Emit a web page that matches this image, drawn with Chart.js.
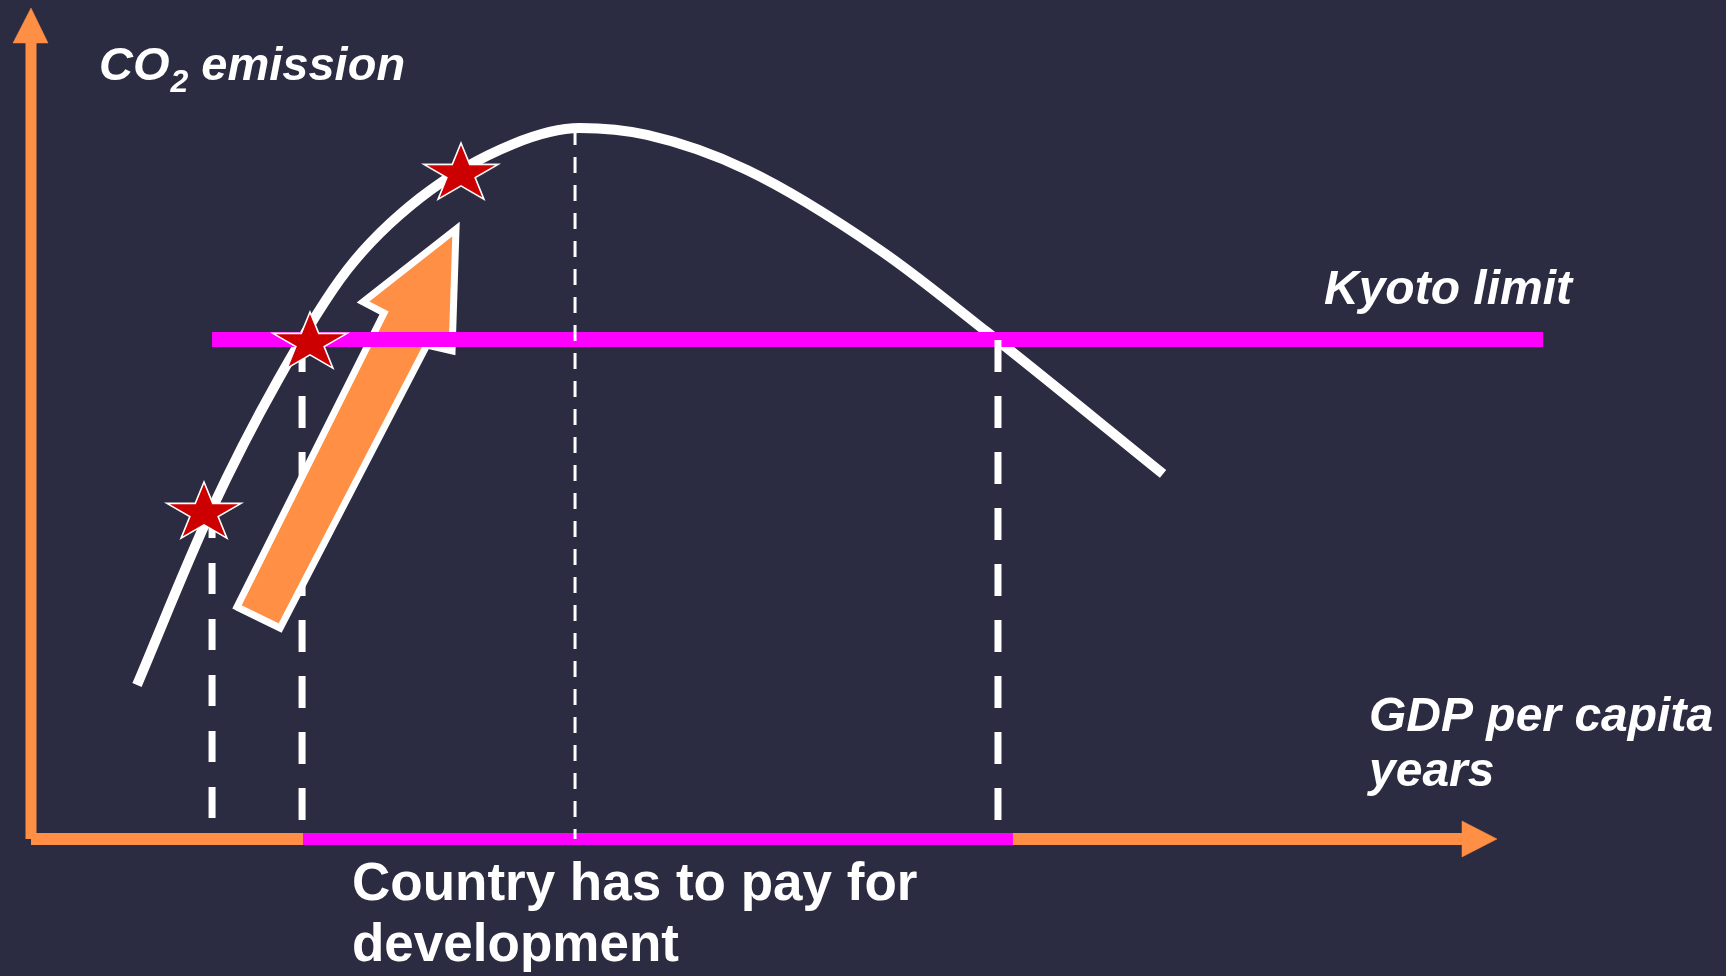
<!DOCTYPE html>
<html>
<head>
<meta charset="utf-8">
<script src="https://cdn.jsdelivr.net/npm/chart.js@4/dist/chart.umd.min.js"></script>
<style>
  html, body { margin: 0; padding: 0; background: #2b2b42; overflow: hidden; }
  #wrap { width: 1726px; height: 976px; position: relative; }
</style>
</head>
<body>
<div id="wrap"><canvas id="c"></canvas></div>
<script>
// ---- data (x = GDP per capita / years, y = CO2 emission; arbitrary units) ----
const curveX = [7.23, 12.21, 16.85, 21.56, 26.53, 32.88, 37.45, 42.02, 48.84, 57.91, 65.21, 77.22];
const curveY = [18.55, 39.28, 55.30, 68.55, 77.23, 83.73, 85.66, 84.82, 80.60, 70.96, 61.08, 43.98];

const starX = [11.80, 19.03, 29.33];
const starY = [39.28, 59.76, 80.12];

const kyotoLevel = 60.18;
const kyotoFrom = 12.35, kyotoTo = 103.14;

const dropX = [12.35, 18.49, 37.11, 65.96];      // dashed verticals
const dropTop = [40.0, 60.12, 85.54, 60.12];
const dropBottom = [2.53, 2.29, 0, 2.29];

const payFrom = 18.55, payTo = 66.98;             // "country has to pay" span on the x axis

const arrowX = [14.05, 16.99, 27.01, 28.72, 28.99, 22.65, 24.08];
const arrowY = [27.95, 25.42, 59.52, 58.80, 73.49, 64.70, 63.37];

const axisXEnd = 97.61, axisXTip = 100, axisYEnd = 95.90, axisYTip = 100.12;

const labels = {
  yTitleMain: "CO", yTitleSub: "2", yTitleRest: " emission",
  kyoto: "Kyoto limit",
  xTitle: ["GDP per capita", "years"],
  pay: ["Country has to pay for", "development"]
};

// ---- helpers ----
const pts = (xs, ys) => xs.map((x, i) => ({x, y: ys[i]}));
const closed = (xs, ys) => { const p = pts(xs, ys); return p.concat([p[0], p[1]]); };

const ORANGE = '#ff8f45', MAGENTA = '#ff00ff', WHITE = '#ffffff', RED = '#cc0000';

function makeStar() {
  const rx = 39, ry = 31, ir = 0.382;
  const cv = document.createElement('canvas');
  cv.width = 2 * rx + 4; cv.height = 2 * ry + 4;
  const g = cv.getContext('2d');
  const cx = cv.width / 2, cy = cv.height / 2;
  g.beginPath();
  for (let k = 0; k < 10; k++) {
    const a = -Math.PI / 2 + k * Math.PI / 5;
    const r = (k % 2 === 0) ? 1 : ir;
    const px = cx + Math.cos(a) * rx * r, py = cy + Math.sin(a) * ry * r;
    k === 0 ? g.moveTo(px, py) : g.lineTo(px, py);
  }
  g.closePath();
  g.fillStyle = RED; g.fill();
  g.lineWidth = 1.6; g.strokeStyle = WHITE; g.lineJoin = 'miter'; g.stroke();
  return cv;
}
const starImg = makeStar();

const base = { pointRadius: 0, tension: 0, fill: false, borderCapStyle: 'butt', borderJoinStyle: 'miter' };
let ord = 100;
const ds = (o) => Object.assign({}, base, o, { order: ord-- });

const datasets = [];
datasets.push(ds({ data: [{x: dropX[0], y: dropTop[0]}, {x: dropX[0], y: dropBottom[0]}], borderColor: WHITE, borderWidth: 7, borderDash: [31, 25] }));
datasets.push(ds({ data: [{x: dropX[1], y: dropTop[1]}, {x: dropX[1], y: dropBottom[1]}], borderColor: WHITE, borderWidth: 7, borderDash: [32, 24] }));
datasets.push(ds({ data: [{x: 0, y: 0}, {x: axisXEnd, y: 0}], borderColor: ORANGE, borderWidth: 12 }));
datasets.push(ds({ data: [{x: payFrom, y: 0}, {x: payTo, y: 0}], borderColor: MAGENTA, borderWidth: 12 }));
datasets.push(ds({ data: [{x: 0, y: 0}, {x: 0, y: axisYEnd}], borderColor: ORANGE, borderWidth: 11 }));
datasets.push(ds({ data: [{x: axisXEnd, y: 2.17}, {x: axisXTip, y: 0}, {x: axisXEnd, y: -2.17}, {x: axisXEnd, y: 2.17}], borderColor: ORANGE, borderWidth: 0.5, backgroundColor: ORANGE, fill: 'shape' }));
datasets.push(ds({ data: [{x: -1.228, y: axisYEnd}, {x: 0, y: axisYTip}, {x: 1.16, y: axisYEnd}, {x: -1.228, y: axisYEnd}], borderColor: ORANGE, borderWidth: 0.5, backgroundColor: ORANGE, fill: 'shape' }));
datasets.push(ds({ data: closed(arrowX, arrowY), borderColor: WHITE, borderWidth: 7, backgroundColor: ORANGE, fill: 'shape' }));
datasets.push(ds({ data: pts(curveX, curveY), borderColor: WHITE, borderWidth: 10, cubicInterpolationMode: 'monotone' }));
datasets.push(ds({ data: [{x: kyotoFrom, y: kyotoLevel}, {x: kyotoTo, y: kyotoLevel}], borderColor: MAGENTA, borderWidth: 15 }));
datasets.push(ds({ data: [{x: dropX[2], y: dropTop[2]}, {x: dropX[2], y: dropBottom[2]}], borderColor: WHITE, borderWidth: 3, borderDash: [16, 12] }));
datasets.push(ds({ data: [{x: dropX[3], y: dropTop[3]}, {x: dropX[3], y: dropBottom[3]}], borderColor: WHITE, borderWidth: 7, borderDash: [32, 24] }));
datasets.push(ds({ data: pts(starX, starY), showLine: false, pointStyle: starImg, pointRadius: 10, pointHoverRadius: 10 }));

const textPlugin = {
  id: 'texts',
  afterDraw(chart) {
    const g = chart.ctx;
    g.save();
    g.fillStyle = WHITE;
    g.textBaseline = 'alphabetic';
    g.textAlign = 'left';
    const fam = '"Liberation Sans", Arial, sans-serif';
    g.font = 'italic bold 47px ' + fam;
    let x = 99;
    g.fillText(labels.yTitleMain, x, 80);
    x += g.measureText(labels.yTitleMain).width + 1;
    g.font = 'italic bold 32px ' + fam;
    g.fillText(labels.yTitleSub, x, 92);
    x += g.measureText(labels.yTitleSub).width;
    g.font = 'italic bold 47px ' + fam;
    g.fillText(labels.yTitleRest, x, 80);
    g.font = 'italic bold 48px ' + fam;
    g.fillText(labels.kyoto, 1324, 304);
    g.fillText(labels.xTitle[0], 1369, 731);
    g.fillText(labels.xTitle[1], 1369, 786);
    g.font = 'bold 53px ' + fam;
    g.fillText(labels.pay[0], 352, 900);
    g.fillText(labels.pay[1], 352, 961);
    g.restore();
  }
};

new Chart(document.getElementById('c'), {
  type: 'line',
  data: { datasets },
  options: {
    responsive: true,
    maintainAspectRatio: false,
    animation: false,
    events: [],
    layout: { padding: 0, autoPadding: false },
    plugins: { legend: { display: false }, tooltip: { enabled: false }, filler: { propagate: false } },
    scales: {
      x: { type: 'linear', min: -2.115, max: 115.62, display: false },
      y: { type: 'linear', min: -16.506, max: 101.084, display: false }
    }
  },
  plugins: [textPlugin]
});
</script>
</body>
</html>
